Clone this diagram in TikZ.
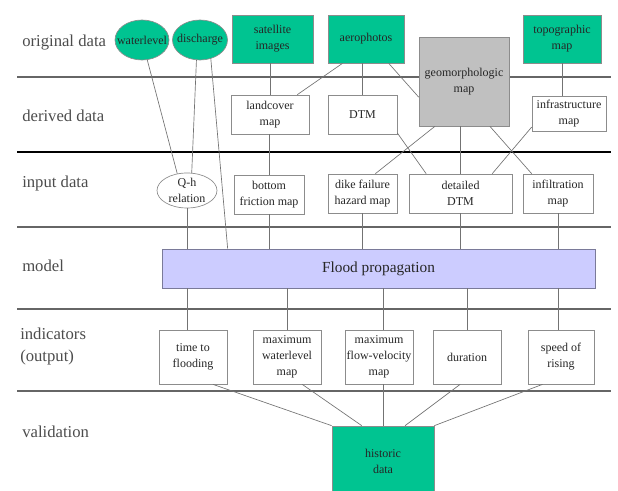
\documentclass[tikz,border=0pt]{standalone}
\usepackage{fontspec}
\setmainfont{Liberation Serif}
\usetikzlibrary{shapes.geometric}

\definecolor{datagreen}{RGB}{0,196,145}
\definecolor{modelblue}{RGB}{204,204,255}
\definecolor{geogray}{RGB}{192,192,192}

\begin{document}
\begin{tikzpicture}[x=0.75pt,y=0.75pt,yscale=-1,xscale=1,
  rowlabel/.style={anchor=west,inner sep=0.75pt,align=left,text=black!70,font=\fontsize{12.5}{16.5}\selectfont},
  boxtext/.style={text=black!85,align=center,font=\fontsize{9}{12}\selectfont},
  databox/.style={boxtext,draw=black!45,line width=0.5pt,inner sep=1pt},
  greenbox/.style={databox,fill=datagreen},
  whitebox/.style={databox,fill=white},
  dataoval/.style={ellipse,draw=black!45,line width=0.5pt,inner sep=0pt},
  link/.style={draw=black!55,line width=0.5pt},
  sepline/.style={draw=black!60,line width=1.5pt}]
\useasboundingbox (0,0) rectangle (618,491);
\clip (0,0) rectangle (618,491);

%Straight Lines (row separators)
\foreach \y in {77,227,309,391}
  \draw [sepline] (17,\y) -- (611,\y);
\draw [line width=0.8pt] (17,152) -- (611,152);

% Text Node (row labels)
\node [rowlabel] (lorig) at (21,43) {original data};
\node [rowlabel] (lderiv) at (21,116) {derived data};
\node [rowlabel] (linput) at (21,183) {input data};
\node [rowlabel] (lmodel) at (21,266) {model};
\node [rowlabel] (lind) at (19,346) {indicators\\(output)};
\node [rowlabel] (lvalid) at (21,432) {validation};

%Shapes: original data
\node [dataoval,fill=datagreen,minimum width=40.5pt,minimum height=30pt,
  label={[boxtext]center:waterlevel}] (wl) at (142,40) {};
\node [dataoval,fill=datagreen,minimum width=41.25pt,minimum height=30pt,
  label={[boxtext]center:discharge}] (dis) at (200,40) {};
\node [greenbox,minimum width=60.75pt,minimum height=36pt] (sat) at (272.5,39) {satellite\\images};
\node [greenbox,minimum width=57pt,minimum height=36pt] (aero) at (366,39) {aerophotos};
\node [greenbox,minimum width=58.5pt,minimum height=36pt] (topo) at (562,39) {topographic\\map};

%Shapes: derived data
\node [databox,fill=geogray,minimum width=67.5pt,minimum height=66.75pt] (geo) at (464,81.5) {geomorphologic\\map};
\node [whitebox,minimum width=58.5pt,minimum height=29.25pt] (lc) at (270,114.5) {landcover\\map};
\node [whitebox,minimum width=51.75pt,minimum height=29.25pt] (dtm) at (362.5,114.5) {DTM};
\node [whitebox,minimum width=55.5pt,minimum height=26.25pt] (infra) at (569,113.5) {infrastructure\\map};

%Shapes: input data
\node [dataoval,fill=white,minimum width=45pt,minimum height=26.25pt,
  label={[boxtext]center:Q-h\\relation}] (qh) at (187,190.5) {};
\node [whitebox,minimum width=52.5pt,minimum height=29.25pt] (bfm) at (269,194.5) {bottom\\friction map};
\node [whitebox,minimum width=51.75pt,minimum height=29.25pt] (dike) at (362.5,193.5) {dike failure\\hazard map};
\node [whitebox,minimum width=77.25pt,minimum height=29.25pt] (ddtm) at (460.5,193.5) {detailed\\DTM};
\node [whitebox,minimum width=52.5pt,minimum height=29.25pt] (inf) at (558,193.5) {infiltration\\map};

%Shapes: model
\node [databox,fill=modelblue,draw=black!40!modelblue,minimum width=324.75pt,minimum height=29.25pt,
  font=\fontsize{11.5}{13}\selectfont] (fp) at (378.5,268.5) {Flood propagation};

%Shapes: indicators
\node [whitebox,minimum width=51pt,minimum height=40.5pt] (ttf) at (193,357) {time to\\flooding};
\node [whitebox,minimum width=51pt,minimum height=40.5pt] (mwl) at (287,357) {maximum\\waterlevel\\map};
\node [whitebox,minimum width=51pt,minimum height=40.5pt] (mfv) at (379,357) {maximum\\flow-velocity\\map};
\node [whitebox,minimum width=51pt,minimum height=40.5pt] (dur) at (467,357) {duration};
\node [whitebox,minimum width=49.5pt,minimum height=40.5pt] (sor) at (561,357) {speed of\\rising};

%Shapes: validation
\node [greenbox,minimum width=76.5pt,minimum height=52.5pt] (hist) at (383,461) {historic\\data};

%Straight Lines (original -> derived -> input)
\draw [link] (wl) -- (qh.120);
\draw [link] (dis.260) -- (qh.75);
\draw [link] (dis.300) -- ([xshift=49.5pt]fp.north west);
\draw [link] (lc.north) -- (lc.north |- sat.south);
\draw [link] (aero.226) -- (lc.36);
\draw [link] (dtm.north) -- (dtm.north |- aero.south);
\draw [link] (aero.-47) -- (geo.199);
\draw [link] (topo.south) -- (topo.south |- infra.north);
\draw [link] (bfm.north) -- (bfm.north |- lc.south);
\draw [link] (dtm.-28) -- (ddtm.150);
\draw [link] (geo.237) -- (dike.57);
\draw [link] (ddtm.north) -- (ddtm.north |- geo.south);
\draw [link] (geo.-60) -- (inf.143);
\draw [link] (infra.200) -- (ddtm.32);

%Straight Lines (input -> model)
\draw [link] (qh.south) -- (qh.south |- fp.north);
\foreach \n in {bfm,dike,ddtm,inf}
  \draw [link] (\n.south) -- (\n.south |- fp.north);

%Straight Lines (model -> indicators)
\draw [link] (fp.south -| qh) -- (ttf.north -| qh);
\draw [link] (fp.south -| mwl) -- (mwl.north);
\draw [link] (fp.south -| hist) -- (mfv.north -| hist);
\draw [link] (fp.south -| dur) -- (dur.north);
\draw [link] (fp.south -| inf) -- (sor.north -| inf);

%Straight Lines (indicators -> validation)
\draw [link] (ttf.-54) -- (hist.north west);
\draw [link] (mwl.-61) -- (hist.121);
\draw [link] (mfv.south -| hist) -- (hist.north);
\draw [link] (dur.256) -- (hist.58);
\draw [link] (sor.236) -- (hist.north east);
\end{tikzpicture}
\end{document}
